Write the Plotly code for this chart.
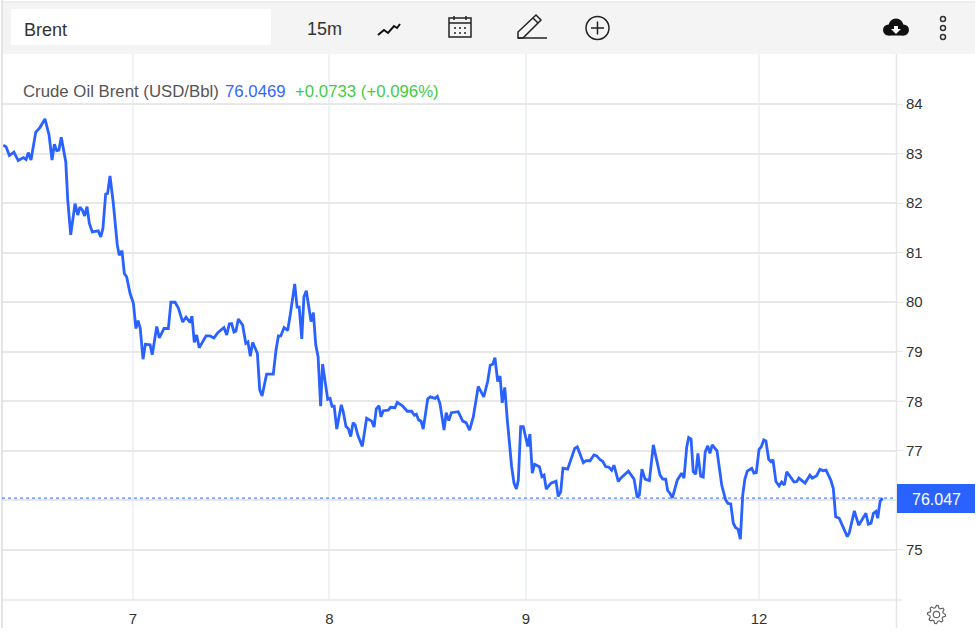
import math
import plotly.graph_objects as go

W, H = 977, 643
L, R, T, B = 2, 896, 54, 600

# session position in days (weekend is squeezed, so "12" sits at 10.186)
session_days = [
    6.340, 6.354, 6.371, 6.394, 6.416, 6.442, 6.456, 6.467, 6.481, 6.505, 6.527, 6.552, 6.573, 6.588, 6.600, 6.612,
    6.623, 6.635, 6.658, 6.668, 6.683, 6.705, 6.719, 6.730, 6.742, 6.754, 6.766, 6.778, 6.793, 6.823, 6.836, 6.847,
    6.861, 6.871, 6.883, 6.900, 6.920, 6.930, 6.944, 6.956, 6.968, 6.985, 7.002, 7.015, 7.026, 7.037, 7.051, 7.063,
    7.087, 7.098, 7.121, 7.134, 7.158, 7.180, 7.193, 7.214, 7.231, 7.253, 7.270, 7.290, 7.300, 7.312, 7.324, 7.337,
    7.372, 7.392, 7.412, 7.433, 7.463, 7.477, 7.490, 7.502, 7.514, 7.524, 7.536, 7.558, 7.574, 7.585, 7.597, 7.609,
    7.633, 7.645, 7.657, 7.680, 7.714, 7.728, 7.740, 7.752, 7.769, 7.787, 7.799, 7.823, 7.835, 7.846, 7.859, 7.870,
    7.882, 7.906, 7.918, 7.930, 7.942, 7.955, 7.965, 7.991, 8.003, 8.013, 8.024, 8.037, 8.060, 8.070, 8.084, 8.096,
    8.108, 8.120, 8.131, 8.144, 8.167, 8.189, 8.215, 8.227, 8.238, 8.252, 8.262, 8.274, 8.299, 8.311, 8.333, 8.345,
    8.371, 8.396, 8.418, 8.432, 8.442, 8.454, 8.466, 8.477, 8.500, 8.513, 8.537, 8.549, 8.562, 8.583, 8.594, 8.607,
    8.620, 8.655, 8.678, 8.695, 8.713, 8.732, 8.757, 8.785, 8.805, 8.818, 8.831, 8.842, 8.856, 8.868, 8.879, 8.892,
    8.905, 8.927, 8.939, 8.951, 8.961, 8.973, 8.986, 9.009, 9.020, 9.032, 9.044, 9.068, 9.081, 9.092, 9.103, 9.127,
    9.153, 9.164, 9.177, 9.188, 9.212, 9.248, 9.261, 9.271, 9.292, 9.305, 9.326, 9.346, 9.360, 9.377, 9.390, 9.406,
    9.422, 9.436, 9.448, 9.470, 9.482, 9.521, 9.550, 9.566, 9.577, 9.590, 9.606, 9.628, 9.648, 9.682, 9.696, 9.711,
    9.721, 9.733, 9.745, 9.770, 9.792, 9.804, 9.818, 9.828, 9.840, 9.851, 9.864, 9.875, 9.889, 9.902, 9.912, 9.925,
    9.936, 9.948, 9.972, 9.996, 10.016, 10.028, 10.042, 10.055, 10.067, 10.079, 10.091, 10.103, 10.114, 10.126,
    10.149, 10.160, 10.172, 10.186, 10.197, 10.210, 10.221, 10.235, 10.247, 10.257, 10.272, 10.288, 10.301, 10.315,
    10.327, 10.364, 10.378, 10.389, 10.420, 10.445, 10.457, 10.479, 10.496, 10.513, 10.527, 10.551, 10.564, 10.576,
    10.594, 10.635, 10.645, 10.671, 10.693, 10.730, 10.742, 10.756, 10.768, 10.781, 10.790, 10.802, 10.815,
]
brent = [
    83.17, 83.14, 82.96, 83.03, 82.86, 82.92, 82.88, 83.02, 82.87, 83.43, 83.53, 83.70, 83.37, 82.87, 83.19, 83.06,
    83.07, 83.33, 82.83, 82.06, 81.36, 81.99, 81.76, 81.92, 81.86, 81.74, 81.93, 81.59, 81.42, 81.44, 81.32, 81.49,
    82.18, 82.20, 82.55, 81.99, 81.16, 80.95, 81.04, 80.58, 80.51, 80.18, 79.98, 79.47, 79.63, 79.47, 78.85, 79.15,
    79.14, 78.94, 79.51, 79.28, 79.47, 79.47, 80.00, 80.00, 79.88, 79.60, 79.70, 79.59, 79.72, 79.19, 79.34, 79.08,
    79.32, 79.32, 79.28, 79.39, 79.49, 79.34, 79.56, 79.57, 79.40, 79.42, 79.66, 79.54, 79.17, 79.20, 78.91, 79.19,
    78.97, 78.23, 78.11, 78.55, 78.55, 79.04, 79.32, 79.32, 79.49, 79.43, 79.71, 80.37, 79.90, 79.90, 79.26, 80.11,
    80.23, 79.61, 79.79, 79.14, 78.90, 77.90, 78.75, 78.04, 78.06, 77.90, 77.90, 77.44, 77.93, 77.79, 77.49, 77.45,
    77.29, 77.57, 77.52, 77.32, 77.09, 77.66, 77.60, 77.48, 77.85, 77.91, 77.69, 77.81, 77.82, 77.88, 77.87, 77.98,
    77.91, 77.80, 77.80, 77.72, 77.74, 77.62, 77.60, 77.44, 78.05, 78.09, 78.06, 78.10, 77.96, 77.42, 77.77, 77.61,
    77.77, 77.79, 77.60, 77.57, 77.42, 77.69, 78.30, 78.09, 78.40, 78.73, 78.75, 78.88, 78.40, 78.51, 77.97, 78.28,
    77.62, 76.68, 76.35, 76.23, 76.41, 77.49, 77.49, 77.09, 77.34, 76.55, 76.73, 76.68, 76.48, 76.51, 76.23, 76.35,
    76.39, 76.08, 76.18, 76.65, 76.63, 77.05, 77.08, 76.98, 76.76, 76.80, 76.80, 76.92, 76.90, 76.82, 76.79, 76.68,
    76.67, 76.61, 76.71, 76.38, 76.45, 76.59, 76.43, 76.06, 76.11, 76.63, 76.43, 76.40, 77.12, 76.51, 76.43, 76.43,
    76.20, 76.14, 76.05, 76.41, 76.55, 76.45, 77.08, 77.27, 77.24, 76.58, 76.53, 76.95, 76.49, 76.47, 76.98, 77.10,
    76.95, 77.12, 77.00, 76.31, 76.01, 75.94, 75.93, 75.54, 75.45, 75.42, 75.22, 76.11, 76.43, 76.59,
    76.65, 76.55, 76.56, 77.03, 77.08, 77.22, 77.20, 76.83, 76.78, 76.82, 76.38, 76.29, 76.37, 76.31,
    76.58, 76.37, 76.38, 76.45, 76.35, 76.51, 76.45, 76.50, 76.63, 76.60, 76.61, 76.41, 76.24, 75.67,
    75.64, 75.27, 75.34, 75.79, 75.50, 75.74, 75.52, 75.54, 75.74, 75.78, 75.64, 75.98, 76.047,
]
day_ticks = [7, 8, 9, 10.186]
day_labels = ["7", "8", "9", "12"]
price_ticks = [75, 76, 77, 78, 79, 80, 81, 82, 83, 84]
price_labels = ["75", "", "77", "78", "79", "80", "81", "82", "83", "84"]
last_price = 76.047

BLUE = "#2962ff"
GRID = "#e8e8e8"
FONT = "Liberation Sans"


# layout helpers, pixels of the page to paper coords
def px(x):
    return (x - L) / (R - L)


def py(y):
    return (B - y) / (B - T)


def box(x0, y0, x1, y1, **kw):
    return dict(type="rect", xref="paper", yref="paper", x0=px(x0), x1=px(x1), y0=py(y0), y1=py(y1), **kw)


def circle(cx, cy, r, **kw):
    return dict(type="circle", xref="paper", yref="paper", x0=px(cx - r), x1=px(cx + r), y0=py(cy + r), y1=py(cy - r), **kw)


def path(points, close=False, **kw):
    d = "M" + " L".join(f"{px(a):.5f},{py(b):.5f}" for a, b in points)
    if close:
        d += " Z"
    return dict(type="path", xref="paper", yref="paper", path=d, **kw)


def label(x, y, text, size=14, color="#333333", anchor="left"):
    return dict(xref="paper", yref="paper", x=px(x), y=py(y), text=text, showarrow=False, xanchor=anchor,
                yanchor="middle", font=dict(family=FONT, size=size, color=color))


def gear(cx, cy, outer, inner, teeth=8):
    pts = []
    for i in range(teeth * 4):
        a = 2 * math.pi * i / (teeth * 4)
        r = outer if i % 4 in (0, 1) else inner
        pts.append((cx + r * math.cos(a), cy + r * math.sin(a)))
    return pts


ICON = dict(color="#222222", width=1.5)

shapes = [
    # toolbar
    box(2, 3, 975, 54, fillcolor="#f4f4f4", line_width=0, layer="below"),
    path([(2, 2), (975, 2)], line=dict(color="#dddddd", width=1), layer="below"),
    box(11, 9, 271, 45, fillcolor="white", line_width=0, layer="below"),
    # white plate behind the legend text
    box(16, 74, 446, 102, fillcolor="white", line_width=0, layer="below"),
    # frame
    path([(2, 0), (2, 628)], line=dict(color="#dddddd", width=1.5)),
    path([(896.5, 54), (896.5, 628)], line=dict(color="#e6e6e6", width=1.5)),
    path([(2, 600), (902, 600)], line=dict(color="#e6e6e6", width=1.5)),
    # last price line
    dict(type="line", xref="paper", yref="y", x0=0, x1=1, y0=last_price, y1=last_price,
         line=dict(color=BLUE, width=1, dash="dot")),
    box(897, 484, 975, 513, fillcolor=BLUE, line_width=0),
    # line chart icon
    path([(378, 35), (384, 30), (388, 33), (394, 26), (397, 28), (400, 24)], line=dict(color="#111111", width=2)),
    # calendar icon
    box(449, 18, 471, 37, line=ICON),
    path([(449, 23), (471, 23)], line=ICON),
    path([(454, 16), (454, 20)], line=ICON),
    path([(466, 16), (466, 20)], line=ICON),
    # pencil icon
    path([(518, 38), (518, 32), (536, 15), (541, 20), (523, 38)], close=True, line=ICON),
    path([(533, 18), (538, 23)], line=ICON),
    path([(518, 38), (547, 38)], line=ICON),
    # plus icon
    circle(597.5, 28, 11.5, line=ICON),
    path([(591, 28), (604, 28)], line=ICON),
    path([(597.5, 21.5), (597.5, 34.5)], line=ICON),
    # cloud icon
    circle(896, 26, 7.5, fillcolor="#111111", line_width=0),
    circle(888.5, 30, 5.5, fillcolor="#111111", line_width=0),
    circle(903.5, 30, 5.5, fillcolor="#111111", line_width=0),
    box(888.5, 29, 903.5, 35.5, fillcolor="#111111", line_width=0),
    path([(894, 26), (898, 26), (898, 29), (901, 29), (896, 34), (891, 29), (894, 29)], close=True,
         fillcolor="white", line_width=0),
    # menu dots
    circle(943, 19, 2.5, line=dict(color="#333333", width=1.5)),
    circle(943, 28, 2.5, line=dict(color="#333333", width=1.5)),
    circle(943, 37, 2.5, line=dict(color="#333333", width=1.5)),
    # settings gear
    path(gear(936.5, 614.5, 9, 6.8), close=True, line=dict(color="#666666", width=1.2)),
    circle(936.5, 614.5, 3.2, line=dict(color="#666666", width=1.2)),
]
for cx in (455, 460, 465):
    for cy in (28, 33):
        shapes.append(circle(cx, cy, 1, fillcolor="#222222", line_width=0))

annotations = [
    label(22, 30, "Brent", size=18),
    label(305, 29, "15m", size=18),
    label(21, 91, "Crude Oil Brent (USD/Bbl)", size=16.8, color="#555555"),
    label(223, 91, "76.0469", size=16.8, color="#3366ff"),
    label(293, 91, "+0.0733 (+0.096%)", size=16.8, color="#44cc44"),
    label(936, 499, f"{last_price:.3f}", size=16, color="white", anchor="center"),
]

fig = go.Figure()
fig.add_trace(go.Scatter(x=session_days, y=brent, mode="lines", line=dict(color=BLUE, width=2.8), showlegend=False))
fig.update_layout(
    width=W,
    height=H,
    margin=dict(l=L, r=W - R, t=T, b=H - B),
    paper_bgcolor="white",
    plot_bgcolor="white",
    font=dict(family=FONT, size=15, color="#333333"),
    shapes=shapes,
    annotations=annotations,
)
fig.update_xaxes(
    range=[6.3334, 10.883],
    tickvals=day_ticks,
    ticktext=day_labels,
    showgrid=True,
    gridcolor="#eef3f7",
    gridwidth=1.5,
    zeroline=False,
    ticks="outside",
    ticklen=5,
    tickcolor="white",
)
fig.update_yaxes(
    side="right",
    range=[73.99, 85.01],
    tickvals=price_ticks,
    ticktext=price_labels,
    showgrid=True,
    gridcolor=GRID,
    gridwidth=1.5,
    zeroline=False,
    ticks="outside",
    ticklen=6,
    tickcolor=GRID,
)

fig.write_html("out.html", config=dict(displayModeBar=False),
               post_script="document.body.style.margin='0';document.body.style.overflow='hidden';")
